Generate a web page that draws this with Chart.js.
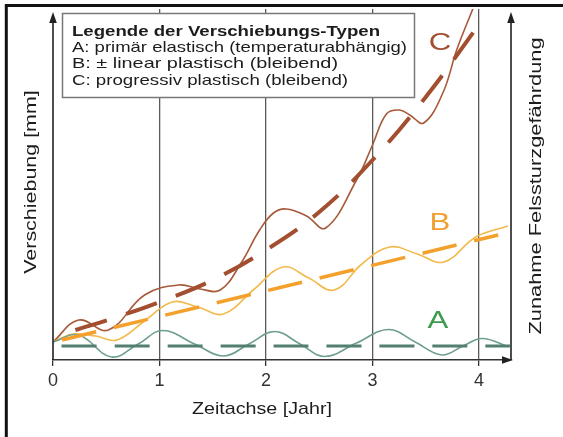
<!DOCTYPE html>
<html>
<head>
<meta charset="utf-8">
<script src="https://cdn.jsdelivr.net/npm/chart.js@4.4.1/dist/chart.umd.min.js"></script>
<style>
  html, body { margin: 0; padding: 0; background: #fff; }
  canvas { display: block; }
</style>
</head>
<body>
<canvas id="chart" width="563" height="437"></canvas>
<script>
// Verschiebungs-Typen: Zeit in Jahren, Verschiebung in mm (schematisch)
const yearTicks = [0, 1, 2, 3, 4];

// A: primär elastisch
const aWaveX = [0, 0.24, 0.55, 0.8, 1.03, 1.33, 1.6, 1.84, 2.08, 2.32, 2.55, 2.85, 3.15, 3.4, 3.65, 3.85, 4.03, 4.27];
const aWaveY = [1.8, 2.5, 0.3, 1.6, 2.95, 1.6, 0.4, 1.6, 2.85, 1.6, 0.35, 1.7, 3.05, 1.8, 0.5, 1.4, 2.15, 1.35];
const aTrendX = [0.08, 4.29];
const aTrendY = [1.4, 1.4];

// B: linear plastisch
const bWaveX = [0, 0.19, 0.4, 0.6, 0.86, 1.12, 1.36, 1.6, 1.88, 2.16, 2.4, 2.64, 2.9, 3.16, 3.42, 3.67, 3.97, 4.27];
const bWaveY = [1.8, 2.6, 2.4, 2.0, 3.9, 5.8, 5.3, 4.6, 7.0, 9.3, 8.2, 7.0, 9.6, 11.3, 10.6, 9.8, 12.3, 13.4];
const bTrendX = [0.085, 4.18];
const bTrendY = [2.0, 12.5];

// C: progressiv plastisch
const cWaveX = [0, 0.24, 0.52, 0.86, 1.18, 1.38, 1.57, 1.76, 1.94, 2.07, 2.19, 2.38, 2.56, 2.85, 3.0, 3.13, 3.25, 3.35, 3.48, 3.66, 3.79, 3.93, 4.05];
const cWaveY = [1.8, 4.0, 3.0, 6.5, 7.5, 7.1, 7.0, 9.6, 13.0, 14.7, 15.1, 14.4, 13.2, 18.0, 21.5, 24.6, 25.0, 24.5, 23.7, 26.7, 31.0, 34.8, 38.0];
const cTrendX = [0.21, 0.6, 1.0, 1.5, 2.0, 2.5, 3.0, 3.5, 4.01];
const cTrendY = [3.0, 4.3, 5.8, 8.0, 11.0, 14.8, 20.0, 26.3, 33.7];

const legendTitle = 'Legende der Verschiebungs-Typen';
const legendLines = [
  'A: primär elastisch (temperaturabhängig)',
  'B: ± linear plastisch (bleibend)',
  'C: progressiv plastisch (bleibend)'
];

const FONT = '"Liberation Sans", Arial, Helvetica, sans-serif';
const INK = '#1c1c1c';

function pts(xs, ys) {
  return xs.map((x, i) => ({ x: x, y: ys[i] }));
}

// text with a wide letter shape, optionally fitted to a given length
function wideText(ctx, text, x, y, o) {
  ctx.save();
  ctx.font = (o.bold ? 'bold ' : '') + o.size + 'px ' + FONT;
  ctx.fillStyle = o.color || INK;
  ctx.textAlign = o.align || 'left';
  ctx.textBaseline = o.baseline || 'alphabetic';
  let sx = o.stretch || 1.3;
  if (o.width) sx = o.width / ctx.measureText(text).width;
  ctx.translate(x, y);
  if (o.rotate) ctx.rotate(o.rotate);
  ctx.scale(sx, 1);
  ctx.fillText(text, 0, 0);
  ctx.restore();
}

function arrowHead(ctx, tipX, tipY, dir) {
  const len = 11, half = 3.8;
  ctx.beginPath();
  if (dir === 'up') {
    ctx.moveTo(tipX, tipY);
    ctx.lineTo(tipX - half, tipY + len);
    ctx.lineTo(tipX + half, tipY + len);
  } else {
    ctx.moveTo(tipX, tipY);
    ctx.lineTo(tipX - len, tipY - half);
    ctx.lineTo(tipX - len, tipY + half);
  }
  ctx.closePath();
  ctx.fill();
}

const decorations = {
  id: 'decorations',
  beforeDraw(chart) {
    const ctx = chart.ctx;
    ctx.save();
    ctx.fillStyle = '#fff';
    ctx.fillRect(0, 0, chart.width, chart.height);
    ctx.restore();
  },
  afterDraw(chart) {
    const ctx = chart.ctx;
    const area = chart.chartArea;
    const xs = chart.scales.x;
    const x0 = xs.getPixelForValue(0);
    const axisTop = 12;

    ctx.save();
    // outer frame (top and left edge)
    ctx.strokeStyle = '#111';
    ctx.lineWidth = 3;
    ctx.beginPath();
    ctx.moveTo(6.3, chart.height);
    ctx.lineTo(6.3, 5.5);
    ctx.lineTo(chart.width, 5.5);
    ctx.stroke();

    // axes with arrows
    ctx.strokeStyle = '#222';
    ctx.fillStyle = '#222';
    ctx.lineWidth = 1.6;
    ctx.beginPath();
    ctx.moveTo(x0, area.bottom);
    ctx.lineTo(x0, axisTop + 8);
    ctx.moveTo(area.right, area.bottom);
    ctx.lineTo(area.right, axisTop + 8);
    ctx.stroke();
    arrowHead(ctx, x0, axisTop, 'up');
    arrowHead(ctx, area.right, axisTop, 'up');
    arrowHead(ctx, area.right + 2, area.bottom, 'right');

    // legend box
    ctx.fillStyle = '#fff';
    ctx.fillRect(62.5, 13.5, 352, 84);
    ctx.strokeStyle = '#777';
    ctx.lineWidth = 1.5;
    ctx.strokeRect(62.5, 13.5, 352, 84);
    ctx.restore();

    wideText(ctx, legendTitle, 72, 35.5, { size: 15, bold: true, width: 308 });
    const lineWidths = [335, 266, 276];
    legendLines.forEach((t, i) => {
      wideText(ctx, t, 72, 52 + i * 16.4, { size: 15, width: lineWidths[i] });
    });

    // series letters
    wideText(ctx, 'C', 440, 43, { size: 24, color: '#a24e2f', align: 'center', baseline: 'middle' });
    wideText(ctx, 'B', 440, 223, { size: 24, color: '#f0a030', align: 'center', baseline: 'middle' });
    wideText(ctx, 'A', 438, 321, { size: 24, color: '#3c9b4c', align: 'center', baseline: 'middle' });

    // axis titles
    wideText(ctx, 'Zeitachse [Jahr]', 262, 414, { size: 17, align: 'center', width: 140 });
    wideText(ctx, 'Verschiebung [mm]', 31, 182, { size: 16.5, align: 'center', baseline: 'middle', rotate: -Math.PI / 2, stretch: 1.3 });
    wideText(ctx, 'Zunahme Felssturzgefährdung', 536, 186, { size: 16.8, align: 'center', baseline: 'middle', rotate: -Math.PI / 2, stretch: 1.3 });
  }
};

const waveStyle = { borderWidth: 1.6, tension: 0.4, order: 2 };
const trendStyle = { borderWidth: 3.5, borderDash: [35, 18], tension: 0.4, order: 1 };

new Chart(document.getElementById('chart'), {
  type: 'line',
  data: {
    datasets: [
      Object.assign({ label: 'A', data: pts(aWaveX, aWaveY), borderColor: '#6e9e8e' }, waveStyle),
      Object.assign({ label: 'B', data: pts(bWaveX, bWaveY), borderColor: '#f2ba4c' }, waveStyle),
      Object.assign({ label: 'C', data: pts(cWaveX, cWaveY), borderColor: '#a65a3a' }, waveStyle),
      Object.assign({ label: 'A Trend', data: pts(aTrendX, aTrendY), borderColor: '#527f72' }, trendStyle, { borderWidth: 3 }),
      Object.assign({ label: 'B Trend', data: pts(bTrendX, bTrendY), borderColor: '#f3a02c' }, trendStyle),
      Object.assign({ label: 'C Trend', data: pts(cTrendX, cTrendY), borderColor: '#a24e2f' }, trendStyle, { borderWidth: 4, borderDash: [33, 20] })
    ]
  },
  options: {
    responsive: false,
    animation: false,
    events: [],
    layout: { padding: { left: 53, right: 52, top: 9, bottom: 0 } },
    elements: { point: { radius: 0 }, line: { fill: false } },
    plugins: { legend: { display: false }, tooltip: { enabled: false } },
    scales: {
      x: {
        type: 'linear',
        min: 0,
        max: 4.3,
        afterBuildTicks: (scale) => {
          scale.ticks = yearTicks.map(v => ({ value: v }));
        },
        afterFit: (scale) => { scale.height = 77; },
        ticks: {
          stepSize: 1,
          color: '#333',
          padding: 4,
          font: { family: FONT, size: 18 },
          callback: (v) => String(v)
        },
        grid: {
          color: (c) => (c.tick && c.tick.value === 0) ? 'rgba(0,0,0,0)' : '#5a5a5a',
          lineWidth: 1.3,
          tickColor: '#333',
          tickLength: 6
        },
        border: { display: true, color: '#333', width: 1.6 }
      },
      y: {
        type: 'linear',
        display: false,
        min: 0,
        max: 35.1
      }
    }
  },
  plugins: [decorations]
});
</script>
</body>
</html>
